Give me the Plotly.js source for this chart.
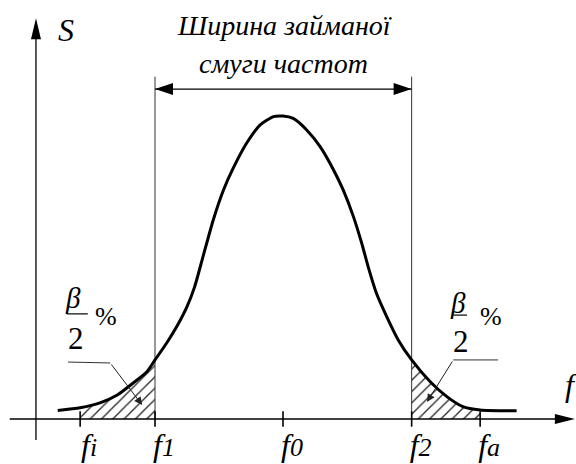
<!DOCTYPE html>
<html>
<head>
<meta charset="utf-8">
<script src="https://cdn.plot.ly/plotly-3.0.1.min.js"></script>
<style>
  html, body { margin: 0; padding: 0; background: #fff; }
  #chart { width: 576px; height: 464px; }
</style>
</head>
<body>
<div id="chart"></div>
<script>
// spectrum S(f), f in units relative to f0, S normalised to the peak
const freq = [-3.52, -3.17, -2.86, -2.59, -2.34, -2.13, -2.00, -1.82, -1.66, -1.50, -1.38, -1.25,
  -1.09, -0.93, -0.78, -0.57, -0.36, -0.15, 0.00, 0.16, 0.37, 0.58, 0.79, 0.94, 1.10, 1.23, 1.33,
  1.46, 1.62, 1.80, 2.01, 2.30, 2.56, 2.81, 3.08, 3.65];
const level = [0.028, 0.037, 0.053, 0.079, 0.119, 0.155, 0.195, 0.250, 0.305, 0.371, 0.437, 0.536,
  0.657, 0.756, 0.827, 0.910, 0.970, 0.998, 1.000, 0.992, 0.954, 0.899, 0.822, 0.756, 0.668, 0.580, 0.503,
  0.415, 0.338, 0.261, 0.195, 0.123, 0.074, 0.041, 0.030, 0.027];

// marked frequencies: fi, f1, f0, f2, fa
const tickPos = [-3.17, -2.00, 0, 2.01, 3.08];
const tickSub = ['i', '1', '0', '2', 'a'];

const bandTop = 1.13;      // top of the f1 / f2 guide lines
const bandArrowY = 1.089;  // level of the occupied-bandwidth arrow
const titleLines = ['Ширина займаної', 'смуги частот'];

// leader lines for the β/2 % labels: [start, bend, arrow tip]
const leaderLx = [-3.36, -2.70, -2.20], leaderLy = [0.188, 0.185, 0.046];
const leaderRx = [3.36, 2.66, 2.25], leaderRy = [0.195, 0.195, 0.056];

const fi = tickPos[0], f1 = tickPos[1], f2 = tickPos[3], fa = tickPos[4];
const serif = 'Liberation Serif';

function tail(lo, hi) {
  const xs = [], ys = [];
  freq.forEach((f, i) => { if (f >= lo - 1e-9 && f <= hi + 1e-9) { xs.push(f); ys.push(level[i]); } });
  return { xs, ys };
}
const tl = tail(fi, f1), tr = tail(f2, fa);
const hatch = { shape: '/', size: 8, solidity: 0.16, fgcolor: '#222', bgcolor: '#fff' };

const traces = [
  { x: tl.xs, y: tl.ys, mode: 'lines', fill: 'tozeroy', fillcolor: 'rgba(0,0,0,0)', fillpattern: hatch,
    line: { width: 0, shape: 'spline', smoothing: 0.6 }, hoverinfo: 'skip' },
  { x: tr.xs, y: tr.ys, mode: 'lines', fill: 'tozeroy', fillcolor: 'rgba(0,0,0,0)', fillpattern: hatch,
    line: { width: 0, shape: 'spline', smoothing: 0.6 }, hoverinfo: 'skip' },
  { x: [f1, f1, null, f2, f2], y: [0, bandTop, null, 0, bandTop], mode: 'lines',
    line: { color: '#333', width: 1 }, hoverinfo: 'skip' },
  { x: freq, y: level, mode: 'lines', line: { color: '#000', width: 3, shape: 'spline', smoothing: 0.6 } },
  { x: tickPos, y: tickPos.map(() => 0), mode: 'markers', hoverinfo: 'skip',
    marker: { symbol: 'line-ns-open', size: 11, color: '#000', line: { color: '#000', width: 1.6 } } },
  { x: [leaderLx[0], leaderLx[1], null, leaderRx[0], leaderRx[1]],
    y: [leaderLy[0], leaderLy[1], null, leaderRy[0], leaderRy[1]], mode: 'lines',
    line: { color: '#333', width: 1 }, hoverinfo: 'skip' }
];

const pxHead = (x, y, path) => ({ type: 'path', xref: 'x', yref: 'y', xsizemode: 'pixel', ysizemode: 'pixel',
  xanchor: x, yanchor: y, path: path, fillcolor: '#000', line: { width: 0 } });

const shapes = [
  // axes
  { type: 'line', x0: -4.27, x1: 4.3, y0: 0, y1: 0, line: { color: '#000', width: 1.3 } },
  { type: 'line', x0: -3.86, x1: -3.86, y0: -0.069, y1: 1.27, line: { color: '#000', width: 1.3 } },
  pxHead(4.56, 0, 'M0,0 L-20,-5 L-20,5 Z'),
  pxHead(-3.86, 1.323, 'M0,0 L-5,-21 L5,-21 Z'),
  // occupied bandwidth arrow
  { type: 'line', x0: f1, x1: f2, y0: bandArrowY, y1: bandArrowY, line: { color: '#000', width: 1.2 } },
  pxHead(f2, bandArrowY, 'M0,0 L-18,-6 L-18,6 Z'),
  pxHead(f1, bandArrowY, 'M0,0 L18,-6 L18,6 Z'),
  // fraction bars
  { type: 'line', x0: -3.375, x1: -3.05, y0: 0.347, y1: 0.347, line: { color: '#000', width: 1.2 } },
  { type: 'line', x0: 2.66, x1: 2.875, y0: 0.343, y1: 0.343, line: { color: '#000', width: 1.2 } }
];

const txt = (x, y, text, size, italic, extra) => Object.assign({ x, y, text, showarrow: false, xref: 'x', yref: 'y',
  font: { family: serif, size, color: '#000', style: italic ? 'italic' : 'normal' } }, extra || {});

const annotations = [
  txt(0.02, 1.30, titleLines[0], 28, true),
  txt(0.0, 1.172, titleLines[1], 28, true),
  txt(-3.39, 1.284, 'S', 32, true),
  txt(4.38, 0.112, 'f', 32, true, { xanchor: 'left' }),
  txt(-3.28, 0.40, 'β', 29, true),
  txt(-3.23, 0.267, '2', 31, false),
  txt(-2.77, 0.34, '%', 26, false),
  txt(2.73, 0.383, 'β', 29, true),
  txt(2.78, 0.257, '2', 31, false),
  txt(3.25, 0.337, '%', 26, false),
  { x: leaderLx[2], y: leaderLy[2], ax: leaderLx[1], ay: leaderLy[1], axref: 'x', ayref: 'y',
    xref: 'x', yref: 'y', text: '', showarrow: true, arrowhead: 2, arrowsize: 1.6, arrowwidth: 1, arrowcolor: '#222' },
  { x: leaderRx[2], y: leaderRy[2], ax: leaderRx[1], ay: leaderRy[1], axref: 'x', ayref: 'y',
    xref: 'x', yref: 'y', text: '', showarrow: true, arrowhead: 2, arrowsize: 1.6, arrowwidth: 1, arrowcolor: '#222' }
];

const layout = {
  width: 576, height: 464,
  margin: { l: 0, r: 0, t: 0, b: 0 },
  paper_bgcolor: '#fff', plot_bgcolor: '#fff',
  showlegend: false,
  xaxis: {
    range: [-4.422, 4.578], showgrid: false, zeroline: false, showline: false,
    tickmode: 'array', tickvals: tickPos,
    ticktext: tickSub.map(s => '<i>f</i><span style="font-size:26px">' + s + '</span>'),
    ticks: '', anchor: 'free', position: 0.097, ticklabelshift: 9, ticklabelstandoff: 4,
    tickfont: { family: serif, size: 32, color: '#000', style: 'italic' }
  },
  yaxis: { range: [-0.1485, 1.383], visible: false },
  shapes, annotations
};

Plotly.newPlot('chart', traces, layout, { staticPlot: true });
</script>
</body>
</html>
